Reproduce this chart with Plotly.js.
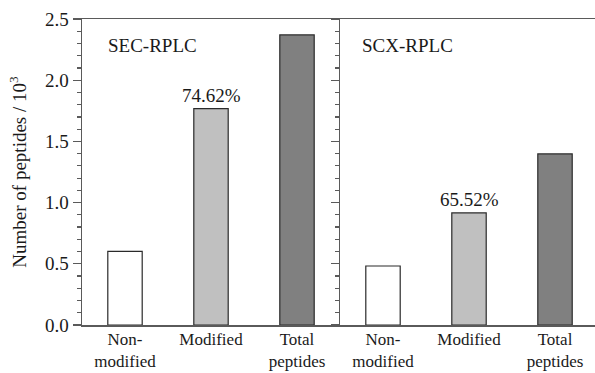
<!DOCTYPE html>
<html>
<head>
<meta charset="utf-8">
<script src="https://cdn.plot.ly/plotly-3.0.1.min.js"></script>
<style>html,body{margin:0;padding:0;background:#fff;}#chart{width:595px;height:373px;}</style>
</head>
<body>
<div id="chart"></div>
<script>
const categories = ["Non-<br>modified", "Modified", "Total<br>peptides"];
const secValues = [0.602, 1.768, 2.370];
const scxValues = [0.482, 0.916, 1.398];
const panelLabels = ["SEC-RPLC", "SCX-RPLC"];
const pctLabels = ["74.62%", "65.52%"];
const barColors = ["#ffffff", "#c0c0c0", "#808080"];
const yTicks = [0.0, 0.5, 1.0, 1.5, 2.0, 2.5];

const fam = "Liberation Serif, Times New Roman, serif";
const txt = "#1a1a1a";
const font = {family: fam, size: 19, color: txt};
const catFont = {family: fam, size: 17, color: txt};
const axisColor = "#5a5a5a";

const barStyle = {color: barColors, line: {color: "#2a2a2a", width: 1.2}};

const traces = [
  {type: "bar", x: categories, y: secValues, xaxis: "x", yaxis: "y", width: 0.4, marker: barStyle, hoverinfo: "x+y"},
  {type: "bar", x: categories, y: scxValues, xaxis: "x2", yaxis: "y2", width: 0.4, marker: barStyle, hoverinfo: "x+y"}
];

const split = 258 / 513;
const xCommon = {
  type: "category", showline: true, mirror: true, linecolor: axisColor, linewidth: 1.5,
  ticks: "", showgrid: false, zeroline: false, tickfont: catFont, ticklabelstandoff: -2, fixedrange: true
};
const yCommon = {
  range: [0, 2.5], showline: true, linecolor: axisColor, linewidth: 1.5,
  ticks: "outside", ticklen: 8, tickwidth: 1.2, tickcolor: axisColor,
  tickvals: yTicks, showgrid: false, zeroline: false,
  minor: {ticks: "outside", dtick: 0.1, ticklen: 4, tickwidth: 1.2, tickcolor: axisColor, showgrid: false},
  fixedrange: true
};

const layout = {
  width: 595, height: 373,
  margin: {l: 82, r: 0, t: 19, b: 48},
  paper_bgcolor: "#ffffff", plot_bgcolor: "#ffffff",
  showlegend: false,
  font: font,
  xaxis: Object.assign({}, xCommon, {domain: [0, split], range: [-0.5, 2.5], anchor: "y"}),
  xaxis2: Object.assign({}, xCommon, {domain: [split, 1], range: [-0.5, 2.465], anchor: "y2"}),
  yaxis: Object.assign({}, yCommon, {
    anchor: "x", tickformat: ".1f", tickfont: font,
    title: {text: "Number of peptides / 10<sup>3</sup>", font: font, standoff: 13}
  }),
  yaxis2: Object.assign({}, yCommon, {anchor: "x2", showticklabels: false}),
  annotations: [
    {xref: "x", yref: "y", x: -0.22, y: 2.28, text: panelLabels[0], showarrow: false, xanchor: "left", yanchor: "middle", font: font},
    {xref: "x2", yref: "y2", x: -0.27, y: 2.28, text: panelLabels[1], showarrow: false, xanchor: "left", yanchor: "middle", font: font},
    {xref: "x", yref: "y", x: categories[1], y: secValues[1], text: pctLabels[0], showarrow: false, xanchor: "center", yanchor: "bottom", yshift: 1, font: font},
    {xref: "x2", yref: "y2", x: categories[1], y: scxValues[1], text: pctLabels[1], showarrow: false, xanchor: "center", yanchor: "bottom", yshift: 1, font: font}
  ]
};

Plotly.newPlot("chart", traces, layout, {displayModeBar: false, staticPlot: true});
</script>
</body>
</html>
